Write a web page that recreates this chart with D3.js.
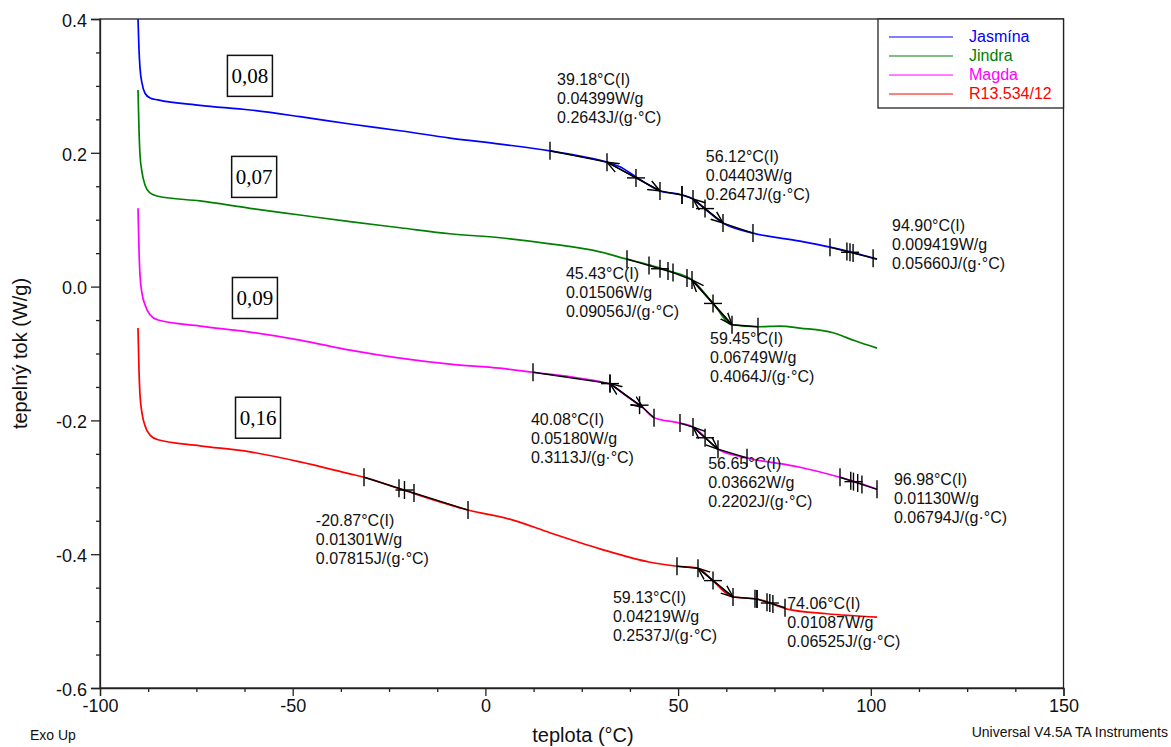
<!DOCTYPE html>
<html>
<head>
<meta charset="utf-8">
<script src="https://cdn.jsdelivr.net/npm/d3@7"></script>
<style>
  body { margin: 0; background: #fff; }
  text { font-family: Arial, "Liberation Sans", sans-serif; }
</style>
</head>
<body>
<div id="chart"></div>
<script>
// DSC curves, [teplota °C, tepelný tok W/g]
const jasmina = [[-90.14,0.400],[-89.88,0.354],[-89.62,0.327],[-89.10,0.304],[-88.32,0.289],[-87.03,0.282],[-84.95,0.279],
  [-74.05,0.271],[-61.08,0.264],[-48.11,0.254],[-35.13,0.243],[-22.16,0.233],[-9.18,0.222],[3.79,0.213],[16.76,0.203],
  [24.55,0.195],[31.55,0.186],[34.92,0.179],[39.07,0.164],[45.30,0.143],[51.01,0.137],[53.87,0.131],[56.98,0.116],
  [61.65,0.095],[69.43,0.080],[81.63,0.068],[89.41,0.059],[94.60,0.052],[101.61,0.041]]
const jindra = [[-90.14,0.294],[-89.88,0.234],[-89.62,0.197],[-89.10,0.171],[-88.32,0.152],[-87.03,0.140],[-84.95,0.135],
  [-74.05,0.128],[-61.08,0.117],[-48.11,0.107],[-35.13,0.097],[-22.16,0.088],[-9.18,0.079],[3.79,0.073],[16.76,0.064],
  [29.73,0.052],[36.74,0.041],[42.71,0.032],[47.90,0.023],[53.61,0.010],[58.80,-0.023],[63.99,-0.057],[70.73,-0.060],
  [76.44,-0.059],[81.63,-0.062],[90.19,-0.069],[95.90,-0.081],[101.61,-0.092]]
const magda = [[-90.14,0.117],[-89.88,0.055],[-89.62,0.017],[-89.10,-0.010],[-88.32,-0.027],[-87.03,-0.042],[-84.95,-0.050],
  [-74.05,-0.059],[-61.08,-0.068],[-48.11,-0.080],[-35.13,-0.095],[-22.16,-0.107],[-9.18,-0.116],[3.79,-0.122],[12.35,-0.128],
  [24.55,-0.137],[32.33,-0.146],[36.22,-0.162],[40.89,-0.181],[43.75,-0.196],[50.49,-0.204],[53.87,-0.210],[56.98,-0.225],
  [60.35,-0.243],[67.88,-0.256],[81.63,-0.270],[92.01,-0.285],[97.20,-0.294],[101.61,-0.303]]
const r13534 = [[-90.14,-0.062],[-89.88,-0.125],[-89.62,-0.162],[-89.10,-0.189],[-88.32,-0.208],[-87.03,-0.222],[-84.95,-0.229],
  [-74.05,-0.238],[-61.08,-0.247],[-48.11,-0.262],[-35.13,-0.280],[-31.50,-0.285],[-21.38,-0.304],[-4.51,-0.334],[7.16,-0.349],
  [16.76,-0.368],[29.73,-0.392],[42.71,-0.412],[49.71,-0.418],[55.16,-0.421],[59.06,-0.440],[64.25,-0.464],[70.47,-0.467],
  [78.26,-0.482],[88.64,-0.489],[101.61,-0.494]]

const seriesData = [jasmina, jindra, magda, r13534]
const seriesNames = ["Jasmína", "Jindra", "Magda", "R13.534/12"]
const seriesColors = ["#0000ff", "#008000", "#ff00ff", "#ff0000"]

const xMajor = [-100, -50, 0, 50, 100, 150]
const yMajor = [-0.6, -0.4, -0.2, 0.0, 0.2, 0.4]
const xTickLabels = ["-100", "-50", "0", "50", "100", "150"]
const yTickLabels = ["-0.6", "-0.4", "-0.2", "0.0", "0.2", "0.4"]

// boxed values next to curves
const boxLabels = ["0,08", "0,07", "0,09", "0,16"]
const boxAt = [[-61.1, 0.315], [-60.0, 0.164], [-59.8, -0.017], [-59.0, -0.196]]

// glass transition analyses (text)
const resultTemp = ["39.18°C(I)", "56.12°C(I)", "94.90°C(I)", "45.43°C(I)", "59.45°C(I)", "40.08°C(I)",
  "56.65°C(I)", "96.98°C(I)", "-20.87°C(I)", "59.13°C(I)", "74.06°C(I)"]
const resultHeight = ["0.04399W/g", "0.04403W/g", "0.009419W/g", "0.01506W/g", "0.06749W/g", "0.05180W/g",
  "0.03662W/g", "0.01130W/g", "0.01301W/g", "0.04219W/g", "0.01087W/g"]
const resultCp = ["0.2643J/(g·°C)", "0.2647J/(g·°C)", "0.05660J/(g·°C)", "0.09056J/(g·°C)", "0.4064J/(g·°C)",
  "0.3113J/(g·°C)", "0.2202J/(g·°C)", "0.06794J/(g·°C)", "0.07815J/(g·°C)", "0.2537J/(g·°C)", "0.06525J/(g·°C)"]
const resultAt = [[18.6, 0.309], [57.2, 0.194], [105.5, 0.092], [20.9, 0.020], [58.3, -0.077], [11.8, -0.199],
  [57.8, -0.264], [106.0, -0.289], [-44.0, -0.349], [33.1, -0.464], [78.3, -0.474]]

// black construction lines of each analysis
const analyses = [
  { pts: [[16.76,0.203],[31.55,0.186],[45.30,0.143],[51.01,0.137]], ticks: [16.76,31.55,45.30,51.01], cross: [39.07], arrow: 1 },
  { pts: [[51.01,0.137],[53.87,0.131],[61.65,0.095],[69.43,0.080]], ticks: [51.01,53.87,61.65,69.43], cross: [56.98], arrow: 1 },
  { pts: [[89.41,0.059],[101.61,0.041]], ticks: [89.41,93.8,95.4,100.6], cross: [94.6], arrow: null },
  { pts: [[36.74,0.041],[48.68,0.021],[53.61,0.010]], ticks: [36.74,42.45,47.38,48.68,52.31,53.61], cross: [45.3], arrow: null },
  { pts: [[53.61,0.010],[63.99,-0.057],[70.73,-0.060]], ticks: [63.99,70.73], cross: [59.06], arrow: 0 },
  { pts: [[12.35,-0.128],[32.33,-0.145],[40.89,-0.181],[43.75,-0.196]], ticks: [12.35,32.33,43.75], cross: [32.33,40.0], arrow: 1 },
  { pts: [[50.49,-0.204],[53.87,-0.210],[60.35,-0.243],[67.88,-0.256]], ticks: [50.49,53.87,60.35,67.88], cross: [57.0], arrow: 1 },
  { pts: [[92.01,-0.285],[101.61,-0.303]], ticks: [92.01,94.8,96.6,97.7,101.61], cross: [95.5], arrow: null },
  { pts: [[-31.50,-0.285],[-4.51,-0.334]], ticks: [-31.5,-22.42,-18.53,-4.51], cross: [-21.0], arrow: null },
  { pts: [[49.71,-0.418],[55.16,-0.421],[64.25,-0.464],[70.47,-0.467]], ticks: [49.71,55.16,64.25,69.95,70.47], cross: [59.06], arrow: 1 },
  { pts: [[70.47,-0.467],[77.74,-0.480]], ticks: [70.47,73.07,74.6,77.74], cross: [73.8], arrow: null }
]

/** CONSTANTS */
const width = 1171
const height = 747
const margins = { top: 19, bottom: 59, left: 100, right: 107.5 }

const xScale = d3.scaleLinear()
  .domain([-100, 150])
  .range([margins.left, width - margins.right])

const yScale = d3.scaleLinear()
  .domain([-0.6, 0.4])
  .range([height - margins.bottom, margins.top])

const svg = d3.select('#chart')
  .append("svg")
  .attr("width", width)
  .attr("height", height)

svg.append("defs").append("clipPath")
  .attr("id", "plot-clip")
  .append("rect")
  .attr("x", margins.left)
  .attr("y", margins.top)
  .attr("width", width - margins.right - margins.left)
  .attr("height", height - margins.bottom - margins.top)

svg.select("defs").append("marker")
  .attr("id", "arr")
  .attr("viewBox", "0 0 10 10")
  .attr("refX", 10).attr("refY", 5)
  .attr("markerUnits", "userSpaceOnUse")
  .attr("markerWidth", 12).attr("markerHeight", 12)
  .attr("orient", "auto-start-reverse")
  .append("path")
  .attr("d", "M0,1 L10,5 L0,9")
  .attr("fill", "none")
  .attr("stroke", "#000")
  .attr("stroke-width", 1.2)

// frame
svg.append("rect")
  .attr("x", margins.left)
  .attr("y", margins.top)
  .attr("width", width - margins.right - margins.left)
  .attr("height", height - margins.bottom - margins.top)
  .attr("fill", "none")
  .attr("stroke", "#222")
  .attr("stroke-width", 1.3)

// axes
const xAxis = svg.append("g")
  .attr("transform", `translate(0,${height - margins.bottom})`)
  .call(d3.axisBottom(xScale).tickValues(xMajor).tickSize(8).tickFormat((d, i) => xTickLabels[i]))
svg.append("g")
  .attr("transform", `translate(0,${height - margins.bottom})`)
  .call(d3.axisBottom(xScale).tickValues(d3.range(-100, 150.1, 12.5).filter(v => !xMajor.includes(v))).tickSize(4).tickFormat(""))
  .call(g => g.select(".domain").remove())

const yAxis = svg.append("g")
  .attr("transform", `translate(${margins.left},0)`)
  .call(d3.axisLeft(yScale).tickValues(yMajor).tickSize(9).tickFormat((d, i) => yTickLabels[i]))
svg.append("g")
  .attr("transform", `translate(${margins.left},0)`)
  .call(d3.axisLeft(yScale).tickValues(d3.range(-12, 9).map(v => v * 0.05).filter(v => Math.abs(Math.round(v * 20) % 4) != 0)).tickSize(4).tickFormat(""))
  .call(g => g.select(".domain").remove())

svg.selectAll(".tick line, .domain").attr("stroke", "#222").attr("stroke-width", 1.3)
svg.selectAll(".tick text").attr("font-size", 18).attr("fill", "#111").style("font-family", "Arial, 'Liberation Sans', sans-serif")
xAxis.selectAll(".tick text").attr("dy", "0.95em").attr("y", 7)
yAxis.selectAll(".tick text").attr("x", -13).attr("dy", "0.4em")

// curves
const line = d3.line()
  .x(d => xScale(d[0]))
  .y(d => yScale(d[1]))
  .curve(d3.curveMonotoneX)

svg.append("g")
  .attr("clip-path", "url(#plot-clip)")
  .selectAll("path.curve")
  .data(seriesData)
  .join("path")
  .attr("class", "curve")
  .attr("d", line)
  .attr("fill", "none")
  .attr("stroke", (d, i) => seriesColors[i])
  .attr("stroke-width", 1.7)

// analysis construction lines
const interp = (pts, t) => {
  for (let i = 0; i < pts.length - 1; i++) {
    const a = pts[i], b = pts[i + 1]
    if (t >= a[0] - 1e-9 && t <= b[0] + 1e-9) return a[1] + (b[1] - a[1]) * (t - a[0]) / (b[0] - a[0])
  }
  return t < pts[0][0] ? pts[0][1] : pts[pts.length - 1][1]
}

const ag = svg.append("g").attr("stroke", "#000").attr("fill", "none").attr("stroke-width", 1.4)
analyses.forEach(a => {
  ag.append("path").attr("d", d3.line().x(d => xScale(d[0])).y(d => yScale(d[1]))(a.pts))
  if (a.arrow != null) {
    const p = a.pts.slice(a.arrow, a.arrow + 2)
    ag.append("path")
      .attr("d", d3.line().x(d => xScale(d[0])).y(d => yScale(d[1]))(p))
      .attr("marker-start", "url(#arr)")
      .attr("marker-end", "url(#arr)")
  }
  a.ticks.forEach(t => {
    const x = xScale(t), y = yScale(interp(a.pts, t))
    ag.append("line").attr("x1", x).attr("x2", x).attr("y1", y - 9).attr("y2", y + 9)
  })
  a.cross.forEach(t => {
    const x = xScale(t), y = yScale(interp(a.pts, t))
    ag.append("line").attr("x1", x).attr("x2", x).attr("y1", y - 9).attr("y2", y + 9)
    ag.append("line").attr("x1", x - 9).attr("x2", x + 9).attr("y1", y).attr("y2", y)
  })
})

// result texts
svg.selectAll("text.result")
  .data(resultTemp)
  .join("text")
  .attr("class", "result")
  .attr("font-size", 16)
  .attr("fill", "#111")
  .each(function (d, i) {
    const x = xScale(resultAt[i][0]), y = yScale(resultAt[i][1]) + 5.5
    const t = d3.select(this)
    ;[d, resultHeight[i], resultCp[i]].forEach((s, k) => {
      t.append("tspan").attr("x", x).attr("y", y + k * 19).text(s)
    })
  })

// boxed numbers
const bg = svg.selectAll("g.box")
  .data(boxLabels)
  .join("g")
  .attr("class", "box")
  .attr("transform", (d, i) => `translate(${xScale(boxAt[i][0])},${yScale(boxAt[i][1])})`)
bg.append("rect")
  .attr("x", -22.5).attr("y", -20.5)
  .attr("width", 45).attr("height", 41)
  .attr("fill", "#fff")
  .attr("stroke", "#111")
  .attr("stroke-width", 1.5)
bg.append("text")
  .attr("text-anchor", "middle")
  .attr("y", 7)
  .attr("font-size", 21)
  .style("font-family", "'Liberation Serif', 'Times New Roman', serif")
  .text(d => d)

// legend
const legend = svg.append("g")
legend.append("rect")
  .attr("x", 878).attr("y", margins.top)
  .attr("width", width - margins.right - 878).attr("height", 89)
  .attr("fill", "#fff")
  .attr("stroke", "#222")
  .attr("stroke-width", 1.3)
legend.selectAll("line")
  .data(seriesNames)
  .join("line")
  .attr("x1", 889).attr("x2", 953)
  .attr("y1", (d, i) => 37 + i * 19)
  .attr("y2", (d, i) => 37 + i * 19)
  .attr("stroke", (d, i) => seriesColors[i])
  .attr("stroke-width", 1.2)
legend.selectAll("text")
  .data(seriesNames)
  .join("text")
  .attr("x", 969)
  .attr("y", (d, i) => 42 + i * 19)
  .attr("font-size", 16)
  .attr("fill", (d, i) => seriesColors[i])
  .text(d => d)

// titles
svg.append("text")
  .attr("transform", `translate(27,${(margins.top + height - margins.bottom) / 2}) rotate(-90)`)
  .attr("text-anchor", "middle")
  .attr("font-size", 20)
  .attr("fill", "#111")
  .text("tepelný tok (W/g)")
svg.append("text")
  .attr("x", 583).attr("y", 742)
  .attr("text-anchor", "middle")
  .attr("font-size", 20)
  .attr("fill", "#111")
  .text("teplota (°C)")
svg.append("text")
  .attr("x", 30).attr("y", 740)
  .attr("font-size", 14)
  .attr("fill", "#111")
  .text("Exo Up")
svg.append("text")
  .attr("x", 1168).attr("y", 737)
  .attr("text-anchor", "end")
  .attr("font-size", 14)
  .attr("fill", "#111")
  .text("Universal V4.5A TA Instruments")
</script>
</body>
</html>
